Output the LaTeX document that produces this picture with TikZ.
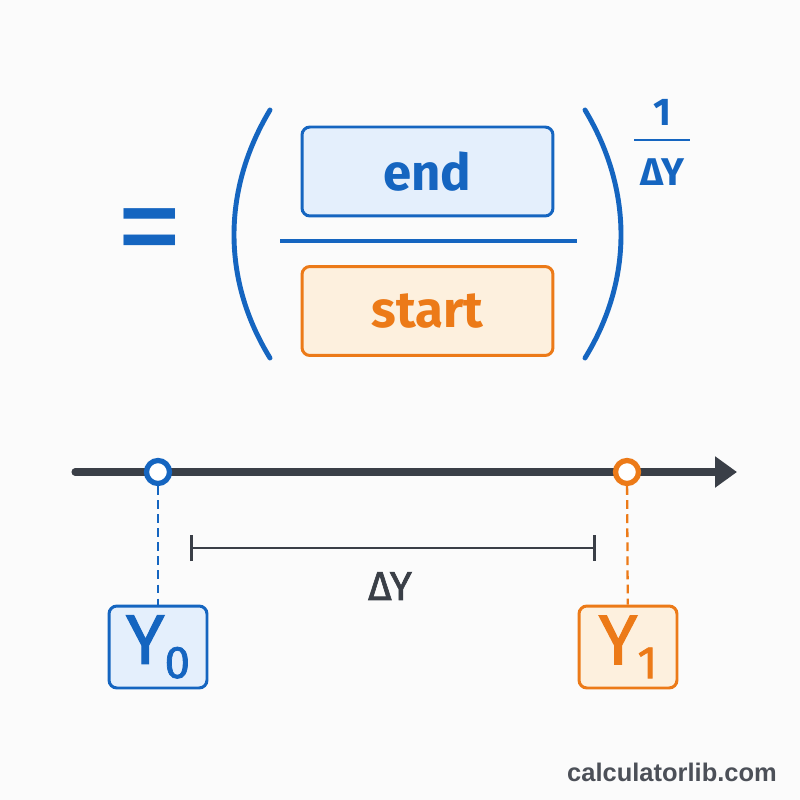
\documentclass[tikz,border=0pt]{standalone}
\usepackage{fontspec}
\setmainfont{Fira Sans}
\newfontfamily\midfont{Fira Sans}[FakeBold=1.6]
\newfontfamily\markfont{Liberation Sans}
\usepackage{tikz}
\usetikzlibrary{arrows.meta}

\definecolor{ratioblue}{RGB}{21,101,192}
\definecolor{ratioorange}{RGB}{236,122,24}
\definecolor{paleblue}{RGB}{228,239,252}
\definecolor{paleorange}{RGB}{253,240,222}
\definecolor{axisgray}{RGB}{58,63,71}
\definecolor{markgray}{RGB}{76,80,88}

\begin{document}
\begin{tikzpicture}[x=0.02cm, y=-0.02cm, >=stealth,
    termbox/.style={draw, rounded corners=4.5pt, line width=1.7pt,
        minimum width=5.02cm, minimum height=1.78cm, font=\fontsize{29}{29}\selectfont\bfseries},
    valbox/.style={draw, rounded corners=4.5pt, line width=1.7pt,
        minimum width=1.96cm, minimum height=1.64cm, inner sep=0pt},
    pin/.style={circle, fill=white, line width=3pt, minimum size=0.46cm, inner sep=0pt}]
    \useasboundingbox[fill={rgb,255:red,251;green,251;blue,251}] (0,0) rectangle (800,800);

    % Equals sign
    \node[ratioblue, font=\fontsize{78}{78}\selectfont] (eq) at (150,241) {=};

    % Parentheses
    \draw[ratioblue, line width=2.8pt, line cap=round] (270,110) .. controls (222,190) and (222,280) .. (270,358);
    \draw[ratioblue, line width=2.8pt, line cap=round] (585,110) .. controls (633,190) and (633,280) .. (585,358);

    % Fraction
    \node[termbox, ratioblue, fill=paleblue] (end) at (427.5,171.5) {end};
    \draw[ratioblue, line width=2.3pt] (280,241) -- (577,241);
    \node[termbox, ratioorange, fill=paleorange] (start) at (427.5,311) {start};

    % Exponent
    \node[ratioblue, font=\fontsize{22}{22}\selectfont\bfseries] (one) at (662,112) {1};
    \draw[ratioblue, line width=1.7pt] (634,140) -- (690,140);
    \node[ratioblue, font=\fontsize{22}{22}\selectfont\bfseries] (expo) at (662,172) {ΔY};

    % Axis
    \draw[axisgray, line width=4pt, line cap=round, -{Triangle[length=0.44cm, width=0.6cm]}] (75,472) -- (737,472);
    \node[pin, draw=ratioblue] (p0) at (158,472) {};
    \node[pin, draw=ratioorange] (p1) at (627,472) {};

    % Values
    \node[valbox, ratioblue, fill=paleblue] (y0) at (158,647)
        {\midfont\fontsize{40}{40}\selectfont Y\raisebox{-0.2em}{\fontsize{26}{26}\selectfont 0}};
    \node[valbox, ratioorange, fill=paleorange] (y1) at (628,647)
        {\midfont\fontsize{40}{40}\selectfont Y\raisebox{-0.2em}{\fontsize{26}{26}\selectfont 1}};
    \draw[ratioblue, line width=1.3pt, dash pattern=on 5pt off 3pt] (p0) -- (y0);
    \draw[ratioorange, line width=1.3pt, dash pattern=on 5pt off 3pt] (p1) -- (y1);

    % Span
    \draw[axisgray, line width=1.7pt, {Bar[width=0.52cm]}-{Bar[width=0.52cm]}] (190,548) -- (596,548);
    \node[axisgray, font=\midfont\fontsize{23}{23}\selectfont] (span) at (390,586) {ΔY};

    % Watermark
    \node[markgray, font=\markfont\fontsize{14.5}{14.5}\selectfont\bfseries] (mark) at (672,772) {calculatorlib.com};
\end{tikzpicture}
\end{document}
